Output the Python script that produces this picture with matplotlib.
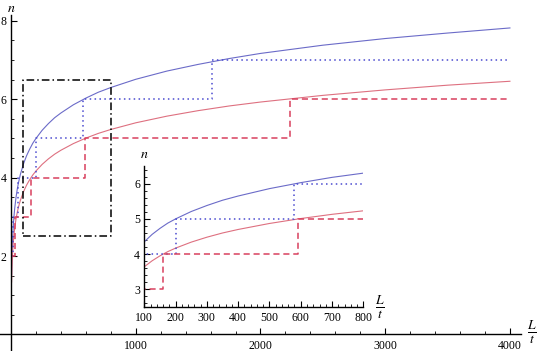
import matplotlib
matplotlib.use("Agg")
import matplotlib.pyplot as plt
import numpy as np

# ---- data ----
curve_x = [5, 6, 7, 8, 10, 12, 15, 20, 25, 30, 40, 50, 60, 75, 100, 125, 150,
           175, 200, 250, 300, 350, 400, 500, 600, 700, 800, 1000, 1250, 1500,
           1750, 2000, 2500, 3000, 3500, 4000]
blue_n = [1.53, 1.70, 1.85, 1.98, 2.18, 2.36, 2.57, 2.84, 3.05, 3.22, 3.49,
          3.70, 3.87, 4.08, 4.35, 4.56, 4.73, 4.88, 5.00, 5.21, 5.38, 5.53,
          5.65, 5.86, 6.03, 6.18, 6.30, 6.51, 6.72, 6.89, 7.04, 7.17, 7.38,
          7.55, 7.69, 7.82]
red_n = [1.34, 1.48, 1.60, 1.70, 1.87, 2.01, 2.18, 2.41, 2.58, 2.72, 2.94,
         3.11, 3.25, 3.42, 3.64, 3.81, 3.95, 4.07, 4.17, 4.34, 4.48, 4.60,
         4.70, 4.87, 5.01, 5.13, 5.23, 5.40, 5.57, 5.71, 5.83, 5.93, 6.10,
         6.24, 6.36, 6.46]

blue_step_x = [5, 20, 60, 200, 580, 1610, 4000]
blue_step_n = [2, 3, 4, 5, 6, 7]
red_step_x = [8, 35, 160, 590, 2240, 4000]
red_step_n = [2, 3, 4, 5, 6]

zoom_box_x = [100, 800]
zoom_box_n = [2.5, 6.5]

main_xticks = [1000, 2000, 3000, 4000]
main_yticks = [2, 4, 6, 8]
inset_xticks = [100, 200, 300, 400, 500, 600, 700, 800]
inset_yticks = [3, 4, 5, 6]

# ---- style ----
plt.rcParams['font.family'] = ['Liberation Serif', 'DejaVu Serif']
plt.rcParams['mathtext.fontset'] = 'stix'
C_BLUE = '#6b6bc8'
C_RED = '#de7080'
C_BLUE_STEP = '#4a4ad0'
C_RED_STEP = '#d8405e'


def step_xy(xs, ns):
    px, py = [], []
    for i, n in enumerate(ns):
        px += [xs[i], xs[i + 1]]
        py += [n, n]
    return px, py


def draw(ax):
    ax.plot(curve_x, blue_n, color=C_BLUE, lw=0.8)
    ax.plot(curve_x, red_n, color=C_RED, lw=0.8)
    bx, by = step_xy(blue_step_x, blue_step_n)
    ax.plot(bx, by, color=C_BLUE_STEP, lw=1.1, linestyle=(0, (1.0, 2.2)))
    rx, ry = step_xy(red_step_x, red_step_n)
    ax.plot(rx, ry, color=C_RED_STEP, lw=1.1, linestyle=(0, (4.0, 2.5)))


def style_axes(ax):
    for s in ['top', 'right']:
        ax.spines[s].set_visible(False)
    for s in ['left', 'bottom']:
        ax.spines[s].set_linewidth(1.0)
    ax.tick_params(which='both', direction='in', labelsize=8.5)
    ax.tick_params(axis='x', pad=4)
    ax.tick_params(axis='y', pad=3)
    ax.tick_params(which='major', length=4, width=0.8)
    ax.tick_params(which='minor', length=2, width=0.6)


fig = plt.figure(figsize=(5.4, 3.51), dpi=100)
ax = fig.add_axes([0, 0, 1, 1])
ax.set_facecolor('none')
draw(ax)
bx0, bx1 = zoom_box_x
by0, by1 = zoom_box_n
ax.plot([bx0, bx1, bx1, bx0, bx0], [by0, by0, by1, by1, by0], color='black',
        lw=1.1, linestyle=(0, (5, 2, 1, 2)))
ax.set_xlim(-88, 4241)
ax.set_ylim(-0.421, 8.533)
style_axes(ax)
ax.spines['left'].set_position(('data', 0))
ax.spines['bottom'].set_position(('data', 0))
ax.spines['bottom'].set_bounds(-88, 4090)
ax.spines['left'].set_bounds(-0.42, 8.15)
ax.set_xticks(main_xticks)
ax.set_yticks(main_yticks)
ax.set_xticks(np.arange(200, 4001, 200), minor=True)
ax.set_yticks(np.arange(0.5, 8.01, 0.5), minor=True)
ax.text(0, 8.32, r'$n$', fontsize=10, ha='center', va='center')
ax.text(4175, 0.05, r'$\frac{L}{t}$', fontsize=14, ha='center', va='center')

ins = fig.add_axes([144.3 / 540, 1 - 306.9 / 351, 219 / 540, 140.8 / 351])
ins.set_facecolor('none')
draw(ins)
ins.set_xlim(zoom_box_x)
ins.set_ylim(zoom_box_n)
style_axes(ins)
ins.set_xticks(inset_xticks)
ins.set_yticks(inset_yticks)
ins.set_xticks(np.arange(100, 801, 20), minor=True)
ins.set_yticks(np.arange(2.6, 6.41, 0.2), minor=True)
ins.text(99, 6.82, r'$n$', fontsize=10, ha='center', va='center')
ins.text(852, 2.5, r'$\frac{L}{t}$', fontsize=14, ha='center', va='center',
         clip_on=False)

fig.savefig('out.png', dpi=100)
